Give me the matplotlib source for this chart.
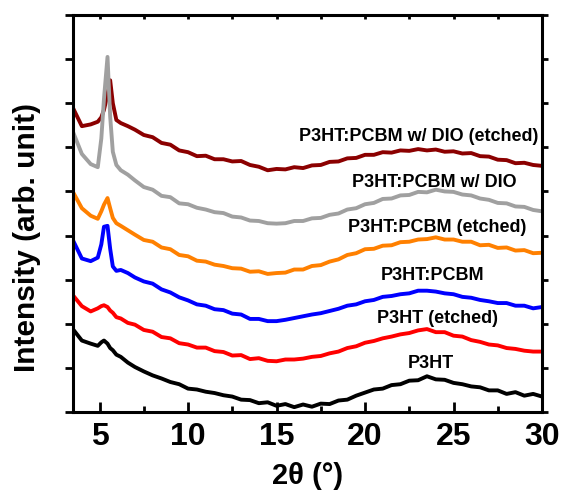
import matplotlib
matplotlib.use("Agg")
import matplotlib.pyplot as plt
from matplotlib.ticker import MultipleLocator

plt.rcParams['font.family'] = ['Liberation Sans', 'DejaVu Sans']
plt.rcParams['font.weight'] = 'bold'

# 2theta grid (deg), denser around the low-angle (100) peak
two_theta = [3.55, 4.0, 4.5, 4.9, 5.1, 5.25, 5.45, 5.6, 5.75, 5.95, 6.2, 6.6, 7.0,
             7.5, 8.0, 8.5, 9.0, 9.5, 10.0, 10.5, 11.0, 11.5, 12.0, 12.5, 13.0,
             13.5, 14.0, 14.5, 15.0, 15.5, 16.0, 16.5, 17.0, 17.5, 18.0, 18.5,
             19.0, 19.5, 20.0, 20.5, 21.0, 21.5, 22.0, 22.5, 23.0, 23.5, 24.0,
             24.5, 25.0, 25.5, 26.0, 26.5, 27.0, 27.5, 28.0, 28.5, 29.0, 29.5, 30.0]

# intensities, already offset (arb. unit)
p3ht = [1.85, 1.62, 1.55, 1.50, 1.58, 1.62, 1.55, 1.45, 1.40, 1.30, 1.25, 1.12, 1.02,
        0.92, 0.83, 0.76, 0.68, 0.63, 0.53, 0.51, 0.46, 0.43, 0.38, 0.35, 0.28,
        0.27, 0.20, 0.22, 0.14, 0.18, 0.11, 0.17, 0.12, 0.19, 0.18, 0.26, 0.28,
        0.37, 0.44, 0.51, 0.53, 0.61, 0.63, 0.71, 0.72, 0.81, 0.74, 0.73, 0.66,
        0.63, 0.58, 0.56, 0.49, 0.49, 0.41, 0.45, 0.37, 0.41, 0.35]
p3ht_etched = [2.62, 2.40, 2.28, 2.35, 2.40, 2.42, 2.38, 2.30, 2.25, 2.15, 2.12, 2.02, 1.98,
               1.86, 1.82, 1.70, 1.67, 1.56, 1.53, 1.46, 1.46, 1.38, 1.36, 1.28, 1.29,
               1.20, 1.22, 1.16, 1.15, 1.19, 1.19, 1.21, 1.25, 1.27, 1.33, 1.37, 1.45,
               1.49, 1.57, 1.61, 1.67, 1.71, 1.76, 1.79, 1.85, 1.88, 1.81, 1.81, 1.73,
               1.71, 1.63, 1.59, 1.53, 1.51, 1.45, 1.43, 1.39, 1.37, 1.37]
pcbm = [3.85, 3.48, 3.42, 3.50, 3.80, 4.20, 4.22, 3.70, 3.30, 3.20, 3.22, 3.15, 3.05,
        2.96, 2.91, 2.78, 2.71, 2.60, 2.53, 2.44, 2.41, 2.33, 2.31, 2.23, 2.21,
        2.11, 2.11, 2.06, 2.06, 2.09, 2.13, 2.17, 2.21, 2.24, 2.29, 2.34, 2.41,
        2.44, 2.51, 2.54, 2.61, 2.63, 2.67, 2.69, 2.75, 2.75, 2.73, 2.69, 2.67,
        2.61, 2.59, 2.54, 2.51, 2.47, 2.47, 2.41, 2.41, 2.35, 2.38]
pcbm_etched = [4.95, 4.62, 4.45, 4.38, 4.55, 4.70, 4.85, 4.62, 4.40, 4.28, 4.22, 4.12, 4.02,
               3.90, 3.86, 3.73, 3.69, 3.56, 3.53, 3.43, 3.41, 3.34, 3.31, 3.26, 3.25,
               3.18, 3.19, 3.13, 3.15, 3.16, 3.23, 3.23, 3.31, 3.33, 3.41, 3.46, 3.56,
               3.60, 3.69, 3.70, 3.77, 3.78, 3.85, 3.86, 3.91, 3.92, 3.96, 3.91, 3.91,
               3.86, 3.86, 3.78, 3.79, 3.72, 3.73, 3.66, 3.67, 3.60, 3.61]
pcbm_dio = [6.30, 5.85, 5.62, 5.55, 6.20, 7.10, 8.05, 6.70, 5.90, 5.60, 5.48, 5.38, 5.25,
            5.10, 5.04, 4.90, 4.87, 4.73, 4.71, 4.63, 4.59, 4.53, 4.51, 4.43, 4.41,
            4.34, 4.33, 4.28, 4.27, 4.28, 4.33, 4.33, 4.39, 4.40, 4.47, 4.50, 4.59,
            4.62, 4.71, 4.74, 4.83, 4.84, 4.91, 4.92, 4.99, 4.98, 5.04, 5.00, 4.99,
            4.93, 4.91, 4.84, 4.81, 4.74, 4.73, 4.66, 4.65, 4.58, 4.55]
pcbm_dio_etched = [6.85, 6.48, 6.52, 6.58, 6.68, 6.85, 7.20, 7.52, 7.00, 6.62, 6.55, 6.48, 6.40,
                   6.28, 6.23, 6.10, 6.06, 5.93, 5.89, 5.80, 5.81, 5.73, 5.73, 5.68, 5.69,
                   5.60, 5.56, 5.48, 5.51, 5.50, 5.55, 5.53, 5.59, 5.60, 5.67, 5.68, 5.75,
                   5.76, 5.83, 5.83, 5.89, 5.88, 5.93, 5.92, 5.96, 5.93, 5.95, 5.90, 5.91,
                   5.86, 5.87, 5.80, 5.79, 5.72, 5.71, 5.64, 5.65, 5.60, 5.58]

series = [pcbm_dio_etched, pcbm_dio, pcbm_etched, pcbm, p3ht_etched, p3ht]
colors = ['#8B0000', '#A0A0A0', '#FF8000', '#0000FF', '#FF0000', '#000000']
labels = ['P3HT:PCBM w/ DIO (etched)', 'P3HT:PCBM w/ DIO', 'P3HT:PCBM (etched)',
          'P3HT:PCBM', 'P3HT (etched)', 'P3HT']
label_x = [29.8, 23.9, 24.1, 23.8, 24.1, 23.7]
label_y = [6.25, 5.2, 4.19, 3.10, 2.13, 1.10]

fig = plt.figure(figsize=(5.63, 4.95), dpi=100)
ax = fig.add_axes([73/563, 1 - 412/495, 469/563, 397/495])

for s, c in zip(series, colors):
    ax.plot(two_theta, s, color=c, lw=2.8)

for i in range(len(labels)):
    ha = 'right' if i == 0 else 'center'
    ax.text(label_x[i], label_y[i], labels[i], fontsize=13, fontweight='bold',
            ha=ha, va='center')

ax.set_xlim(3.5, 30)
ax.set_ylim(0, 9)
ax.xaxis.set_major_locator(MultipleLocator(5))
ax.xaxis.set_minor_locator(MultipleLocator(2.5))
ax.yaxis.set_major_locator(MultipleLocator(1))

for sp in ax.spines.values():
    sp.set_linewidth(2.2)

ax.tick_params(axis='x', which='major', direction='in', length=7, width=2,
               labelsize=23, pad=7, top=True)
ax.tick_params(axis='x', which='minor', direction='in', length=4, width=2, top=True)
ax.tick_params(axis='y', which='major', direction='out', length=6, width=2,
               labelleft=False, right=True)
for t in ax.yaxis.get_major_ticks():
    t.tick2line.set_markersize(4)
for t in ax.xaxis.get_major_ticks() + ax.xaxis.get_minor_ticks():
    t.tick2line.set_markersize(3)

ax.set_xlabel('2θ (°)', fontsize=21, fontweight='bold')
ax.set_ylabel('Intensity (arb. unit)', fontsize=21.5, fontweight='bold')
ax.xaxis.set_label_coords(0.5, -0.125)
ax.yaxis.set_label_coords(-0.068, 0.44)

fig.savefig('out.png', dpi=100)
